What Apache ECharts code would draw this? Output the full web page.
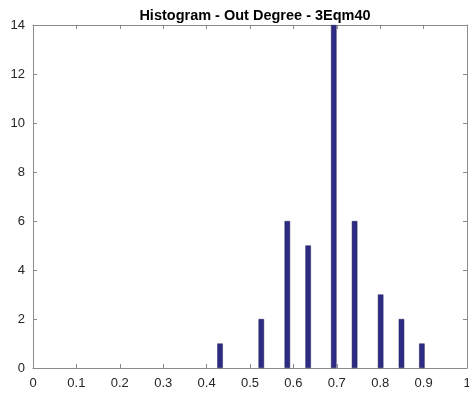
<!DOCTYPE html>
<html>
<head>
<meta charset="utf-8">
<script src="https://cdn.jsdelivr.net/npm/echarts@6/dist/echarts.min.js"></script>
<style>
  html, body { margin: 0; padding: 0; background: #fff; }
  #chart { width: 469px; height: 394px; }
</style>
</head>
<body>
<div id="chart"></div>
<script>
// Out-degree histogram: bin centres and counts
const binCenters = [0.431, 0.526, 0.586, 0.634, 0.693, 0.741, 0.801, 0.849, 0.896];
const counts = [1, 2, 6, 5, 14, 6, 3, 2, 1];
const xTicks = [0, 0.1, 0.2, 0.3, 0.4, 0.5, 0.6, 0.7, 0.8, 0.9, 1];
const yTicks = [0, 2, 4, 6, 8, 10, 12, 14];
const titleText = 'Histogram - Out Degree - 3Eqm40';

const axisGray = '#8a8a8a';
const labelColor = '#262626';
const font = 'Liberation Sans, Arial, Helvetica, sans-serif';

const chart = echarts.init(document.getElementById('chart'), null, { renderer: 'canvas' });

const boxAxis = (extra) => Object.assign({
  axisLine: { show: true, onZero: false, lineStyle: { color: axisGray, width: 1 } },
  axisTick: { show: true, inside: true, length: 4, lineStyle: { color: axisGray } },
  splitLine: { show: false }
}, extra);

chart.setOption({
  animation: false,
  title: {
    text: titleText,
    left: 250, top: 3, textAlign: 'center',
    textStyle: { fontFamily: font, fontSize: 14.5, fontWeight: 'bold', color: '#000' }
  },
  grid: { left: 33, right: 2, top: 25, bottom: 26, containLabel: false, outerBoundsMode: 'none' },
  xAxis: [
    boxAxis({
      type: 'value', min: 0, max: 1, interval: 0.1, position: 'bottom',
      axisLabel: {
        color: labelColor, fontFamily: font, fontSize: 13, margin: 9,
        showMaxLabel: true, hideOverlap: false,
        formatter: (v) => {
          const t = xTicks.find(k => Math.abs(k - v) < 1e-9);
          return t === undefined ? '' : String(t);
        }
      }
    }),
    boxAxis({ type: 'value', min: 0, max: 1, interval: 0.1, position: 'top', axisLabel: { show: false } })
  ],
  yAxis: [
    boxAxis({
      type: 'value', min: 0, max: 14, interval: 2, position: 'left',
      axisLabel: {
        color: labelColor, fontFamily: font, fontSize: 13, margin: 8,
        formatter: (v) => yTicks.includes(v) ? String(v) : ''
      }
    }),
    boxAxis({ type: 'value', min: 0, max: 14, interval: 2, position: 'right', axisLabel: { show: false } })
  ],
  series: [{
    type: 'bar',
    xAxisIndex: 0, yAxisIndex: 0,
    barWidth: 5.5,
    data: binCenters.map((x, i) => [x, counts[i]]),
    itemStyle: { color: '#2e2b84', borderColor: '#1f1d55', borderWidth: 0.5 }
  }]
});
</script>
</body>
</html>
